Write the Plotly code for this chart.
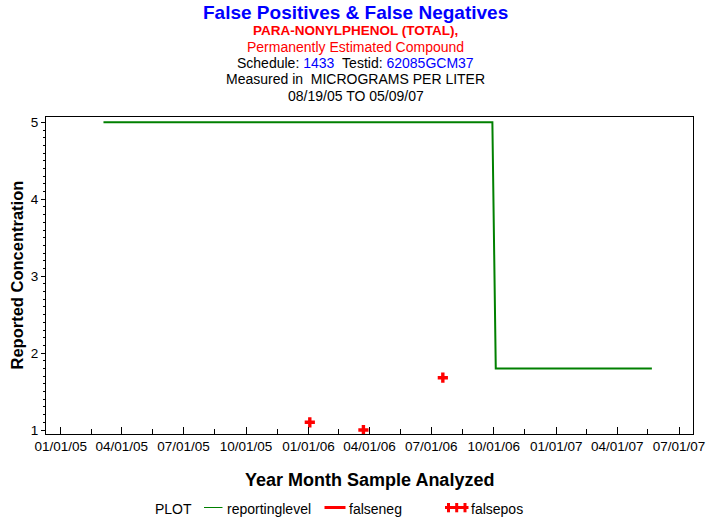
import plotly.graph_objects as go

# ---------------- data ----------------
rl_dates = ["2005-03-05", "2006-09-29", "2006-10-04", "2007-05-22"]
rl_values = [5.0, 5.0, 1.8, 1.8]

fp_dates = ["2006-01-03", "2006-03-23", "2006-07-18"]
fp_values = [1.1, 1.0, 1.68]

fn_dates = []
fn_values = []

major_tick_dates = ["2005-01-01", "2005-04-01", "2005-07-01", "2005-10-01",
                    "2006-01-01", "2006-04-01", "2006-07-01", "2006-10-01",
                    "2007-01-01", "2007-04-01", "2007-07-01"]
major_tick_labels = ["01/01/05", "04/01/05", "07/01/05", "10/01/05",
                     "01/01/06", "04/01/06", "07/01/06", "10/01/06",
                     "01/01/07", "04/01/07", "07/01/07"]
minor_tick_dates = ["2005-02-15", "2005-05-16", "2005-08-16", "2005-11-16",
                    "2006-02-15", "2006-05-16", "2006-08-16", "2006-11-16",
                    "2007-02-15", "2007-05-16"]
y_tick_vals = [1, 2, 3, 4, 5]

FONT = "Liberation Sans, Arial, sans-serif"
W, H = 713, 523
ML, MR, MT, MB = 46, 20, 117, 89
PW, PH = W - ML - MR, H - MT - MB


def px(x):
    return (x - ML) / PW


def py(y):
    return (H - MB - y) / PH


fig = go.Figure()
fig.add_trace(go.Scatter(x=rl_dates, y=rl_values, mode="lines",
                         line=dict(color="rgb(0,128,0)", width=2),
                         name="reportinglevel", showlegend=False))
fig.add_trace(go.Scatter(x=fn_dates, y=fn_values, mode="lines",
                         line=dict(color="red", width=3),
                         name="falseneg", showlegend=False))
fig.add_trace(go.Scatter(x=fp_dates, y=fp_values, mode="markers",
                         marker=dict(symbol="cross", size=8.5, color="red",
                                     line=dict(width=0)),
                         name="falsepos", showlegend=False))

fig.update_layout(
    width=W, height=H,
    margin=dict(l=ML, r=MR, t=MT, b=MB, pad=0, autoexpand=False),
    paper_bgcolor="white", plot_bgcolor="white",
    font=dict(family=FONT, color="black", size=14),
    showlegend=False,
)

fig.update_xaxes(
    type="date", automargin=False,
    range=["2004-12-10 08:00", "2007-07-21 14:00"],
    tickmode="array", tickvals=major_tick_dates, ticktext=major_tick_labels,
    ticks="inside", ticklen=7, tickwidth=1, tickcolor="black",
    minor=dict(tickmode="array", tickvals=minor_tick_dates, ticks="inside",
               ticklen=5, tickwidth=1, tickcolor="black", showgrid=False),
    tickfont=dict(family=FONT, size=13.5, color="black"),
    showline=True, linecolor="black", linewidth=1, mirror=True,
    showgrid=False, zeroline=False,
)
fig.update_yaxes(
    automargin=False,
    range=[0.948, 5.069],
    tickmode="array", tickvals=y_tick_vals,
    ticks="outside", ticklen=4, tickwidth=1, tickcolor="black",
    minor=dict(dtick=0.1, ticks="outside", ticklen=2, tickwidth=1,
               tickcolor="black", showgrid=False),
    tickfont=dict(family=FONT, size=13.5, color="black"),
    showline=True, linecolor="black", linewidth=1, mirror=True,
    showgrid=False, zeroline=False,
)

ann = []


def text(x, y, s, size, color="black", bold=False, angle=0, xanchor="center"):
    if bold:
        s = "<b>" + s + "</b>"
    ann.append(dict(x=px(x), y=py(y), xref="paper", yref="paper", text=s,
                    showarrow=False, xanchor=xanchor, yanchor="middle",
                    textangle=angle,
                    font=dict(family=FONT, size=size, color=color)))


text(355.5, 12, "False Positives &amp; False Negatives", 19, "blue", True)
text(355, 31, "PARA-NONYLPHENOL (TOTAL),", 13.5, "red", True)
text(355, 47, "Permanently Estimated Compound", 14, "red")
text(355.5, 63, "Schedule: <span style='color:blue'>1433</span>\u00a0\u00a0Testid: "
     "<span style='color:blue'>62085GCM37</span>", 14)
text(355, 79, "Measured in\u00a0\u00a0MICROGRAMS PER LITER", 14)
text(355.5, 95.5, "08/19/05 TO 05/09/07", 14)

# axis titles
text(369, 480, "Year Month Sample Analyzed", 18, bold=True)
text(16.5, 275, "Reported Concentration", 16.5, bold=True, angle=-90)

# legend
text(152.5, 509, "PLOT", 14, xanchor="left")
text(225, 509, "reportinglevel", 14, xanchor="left")
text(346.5, 509, "falseneg", 14, xanchor="left")
text(468.5, 509, "falsepos", 14, xanchor="left")

shapes = [
    dict(type="line", xref="paper", yref="paper", x0=px(204), x1=px(222.5),
         y0=py(507.5), y1=py(507.5), line=dict(color="rgb(0,128,0)", width=1)),
    dict(type="line", xref="paper", yref="paper", x0=px(324.5), x1=px(345.5),
         y0=py(507.5), y1=py(507.5), line=dict(color="red", width=3)),
    dict(type="line", xref="paper", yref="paper", x0=px(445), x1=px(468.5),
         y0=py(507.5), y1=py(507.5), line=dict(color="red", width=3)),
]
for cx in (448.5, 456.7, 465):
    shapes.append(dict(type="line", xref="paper", yref="paper", x0=px(cx), x1=px(cx),
                       y0=py(503), y1=py(512.3), line=dict(color="red", width=3)))

fig.update_layout(annotations=ann, shapes=shapes)

fig.write_html(
    "out.html",
    config={"displayModeBar": False},
    post_script="document.body.style.margin='0';document.body.style.padding='0';"
                "document.body.style.overflow='hidden';",
)
